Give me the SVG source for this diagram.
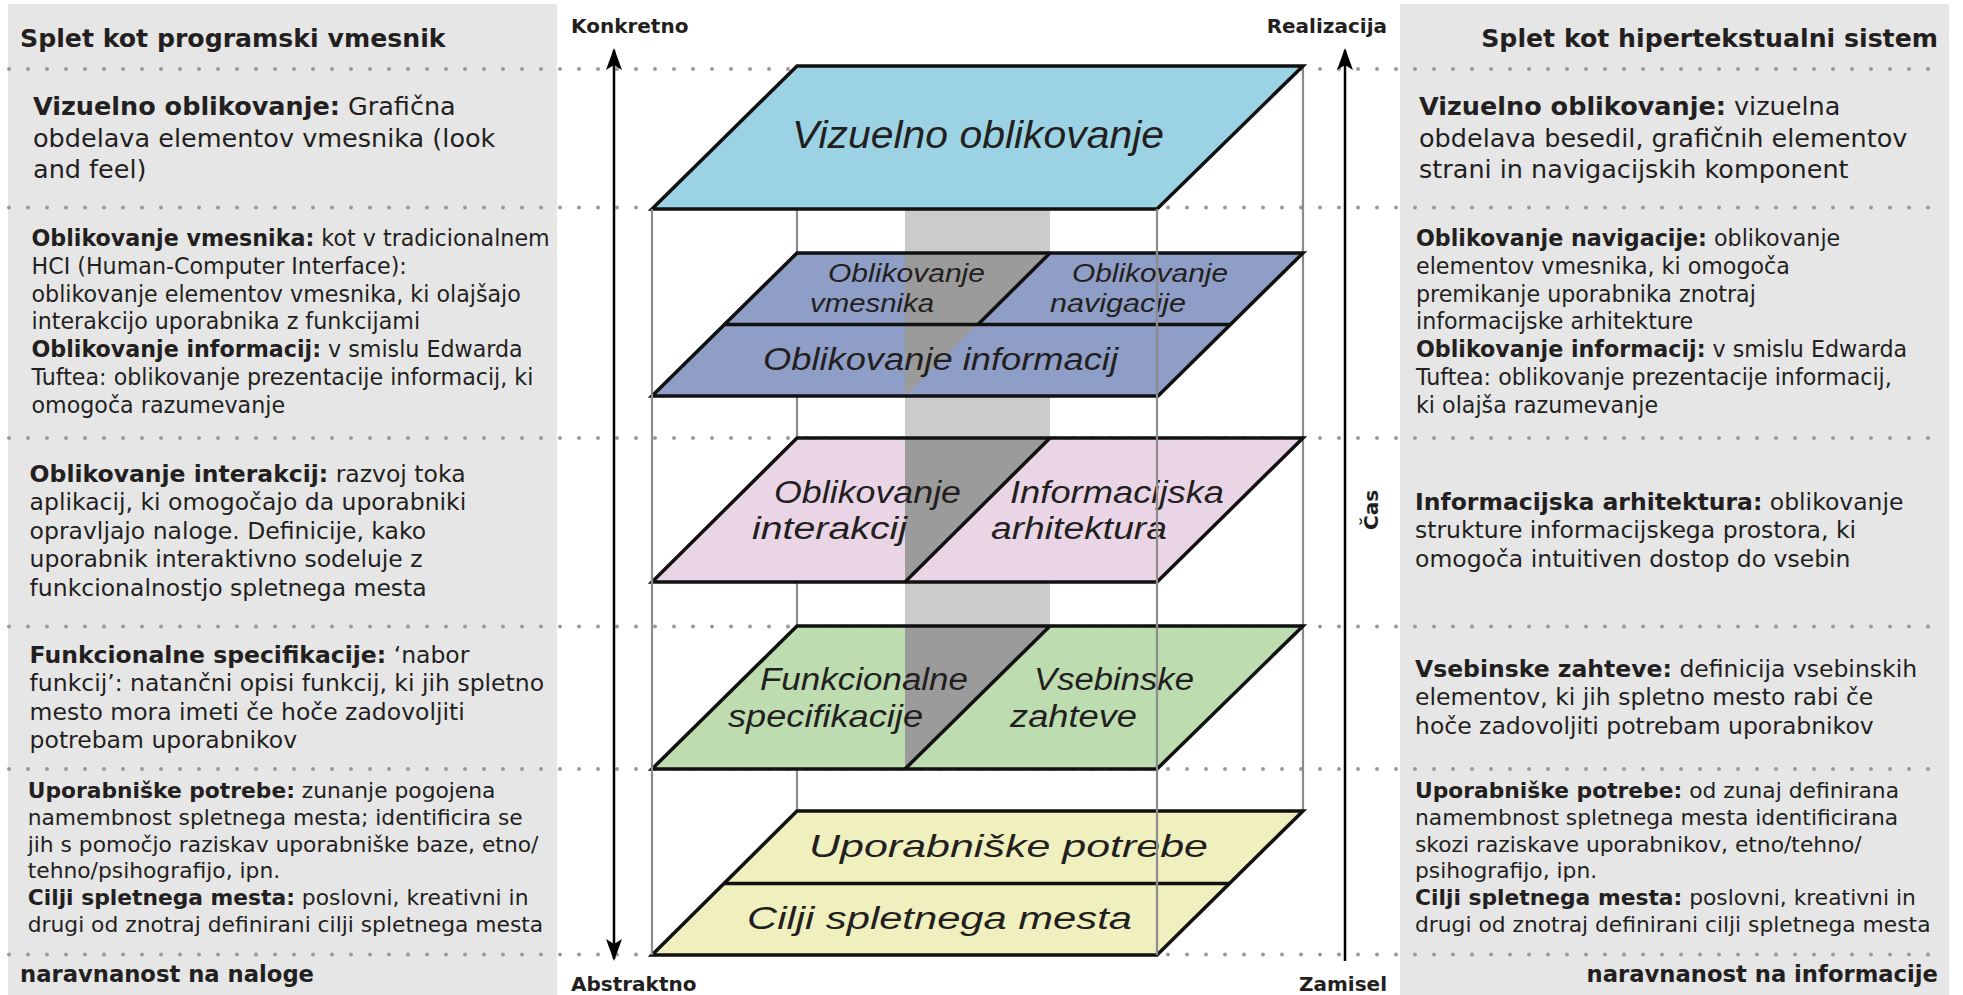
<svg xmlns="http://www.w3.org/2000/svg" width="1963" height="995" viewBox="0 0 1963 995">
<style>
  .panel { fill: #e6e6e6; }
  .dots { stroke: #9a9a9a; stroke-width: 4; stroke-linecap: round; stroke-dasharray: 0 19; fill: none; }
  .edge { stroke: #8c8c8c; stroke-width: 2.2; fill: none; }
  .plane { stroke: #111; stroke-width: 3.5; stroke-linejoin: miter; }
  .div { stroke: #111; stroke-width: 3.5; fill: none; }
  .dark { fill: #9b9b9b; }
  .shaft { fill: #cbcbcb; }
  .t { font-family: "DejaVu Sans", "Noto Sans", sans-serif; fill: #231f20; }
  .b { font-weight: bold; }
  .hdr { font-size: 25.2px; font-weight: bold; }
  .ftr { font-size: 22.7px; font-weight: bold; }
  .s1 { font-size: 25.5px; }
  .s2 { font-size: 22.2px; }
  .s3 { font-size: 23.5px; }
  .s5 { font-size: 21.8px; }
  .ax { font-family: "DejaVu Sans", sans-serif; font-size: 20px; font-weight: bold; fill: #231f20; }
  .lbl { font-family: "Liberation Sans", Arial, sans-serif; font-style: italic; fill: #231f20; }
  .arrow { stroke: #000; stroke-width: 2.5; fill: none; }
</style>
<defs>
  <marker id="ah" markerUnits="userSpaceOnUse" markerWidth="26" markerHeight="20" viewBox="0 -10 26 20" refX="20" refY="0" orient="auto-start-reverse">
    <path d="M0,-8 L22,0 L0,8 L5,0 Z" fill="#000"/>
  </marker>
</defs>

<!-- side panels -->
<g id="panel-left">
  <rect class="panel" x="8" y="4" width="549" height="991"/>
</g>
<g id="panel-right">
  <rect class="panel" x="1400" y="4" width="549" height="991"/>
</g>

<!-- dotted row separators -->
<g id="row-separators">
  <line class="dots" x1="9" y1="69" x2="1945" y2="69"/>
  <line class="dots" x1="9" y1="207.5" x2="1945" y2="207.5"/>
  <line class="dots" x1="9" y1="438" x2="1945" y2="438"/>
  <line class="dots" x1="9" y1="626.5" x2="1945" y2="626.5"/>
  <line class="dots" x1="9" y1="769" x2="1945" y2="769"/>
  <line class="dots" x1="9" y1="954.5" x2="1945" y2="954.5"/>
</g>

<!-- central shaft and back edges -->
<g id="shaft">
  <rect class="shaft" x="905" y="209" width="145" height="418"/>
</g>
<g id="back-edges">
  <line class="edge" x1="797" y1="66" x2="797" y2="811"/>
  <line class="edge" x1="1303" y1="66" x2="1303" y2="811"/>
</g>

<!-- planes -->
<g id="node-vizuelno">
  <polygon class="plane" fill="#9cd3e4" points="797,66 1303,66 1157,209 652,209"/>
  <text class="lbl" x="792" y="148" font-size="38" textLength="372" lengthAdjust="spacingAndGlyphs">Vizuelno oblikovanje</text>
</g>

<g id="node-oblikovanje-vmesnika-navigacije-informacij">
  <polygon fill="#8e9ec6" points="797,253 1303,253 1158,396 652,396"/>
  <polygon class="dark" points="905,253 1050,253 905,396"/>
  <polygon class="plane" fill="none" points="797,253 1303,253 1158,396 652,396"/>
  <line class="div" x1="725" y1="324.5" x2="1231" y2="324.5"/>
  <line class="div" x1="1050" y1="253" x2="978" y2="324.5"/>
  <text class="lbl" x="828" y="282" font-size="26" textLength="157" lengthAdjust="spacingAndGlyphs">Oblikovanje</text>
  <text class="lbl" x="810" y="312" font-size="26" textLength="124" lengthAdjust="spacingAndGlyphs">vmesnika</text>
  <text class="lbl" x="1072" y="282" font-size="26" textLength="156" lengthAdjust="spacingAndGlyphs">Oblikovanje</text>
  <text class="lbl" x="1050" y="312" font-size="26" textLength="136" lengthAdjust="spacingAndGlyphs">navigacije</text>
  <text class="lbl" x="763" y="370" font-size="31" textLength="355" lengthAdjust="spacingAndGlyphs">Oblikovanje informacij</text>
</g>

<g id="node-interakcije-arhitektura">
  <polygon fill="#e9d5e6" points="797,438 1303,438 1157,582 652,582"/>
  <polygon class="dark" points="905,438 1050,438 905,582"/>
  <polygon class="plane" fill="none" points="797,438 1303,438 1157,582 652,582"/>
  <line class="div" x1="1050" y1="438" x2="905" y2="582"/>
  <text class="lbl" x="774" y="503" font-size="31" textLength="187" lengthAdjust="spacingAndGlyphs">Oblikovanje</text>
  <text class="lbl" x="752" y="539" font-size="31" textLength="155" lengthAdjust="spacingAndGlyphs">interakcij</text>
  <text class="lbl" x="1010" y="503" font-size="31" textLength="214" lengthAdjust="spacingAndGlyphs">Informacijska</text>
  <text class="lbl" x="991" y="539" font-size="31" textLength="176" lengthAdjust="spacingAndGlyphs">arhitektura</text>
</g>

<g id="node-funkcionalne-vsebinske">
  <polygon fill="#bddcb0" points="797,626 1303,626 1157,769 652,769"/>
  <polygon class="dark" points="905,626 1050,626 905,769"/>
  <polygon class="plane" fill="none" points="797,626 1303,626 1157,769 652,769"/>
  <line class="div" x1="1050" y1="626" x2="905" y2="769"/>
  <text class="lbl" x="760" y="690" font-size="31" textLength="208" lengthAdjust="spacingAndGlyphs">Funkcionalne</text>
  <text class="lbl" x="728" y="727" font-size="31" textLength="195" lengthAdjust="spacingAndGlyphs">specifikacije</text>
  <text class="lbl" x="1034" y="690" font-size="31" textLength="160" lengthAdjust="spacingAndGlyphs">Vsebinske</text>
  <text class="lbl" x="1010" y="727" font-size="31" textLength="127" lengthAdjust="spacingAndGlyphs">zahteve</text>
</g>

<g id="node-potrebe-cilji">
  <polygon fill="#f0efbe" points="797,811 1303,811 1157,955 652,955"/>
  <polygon class="plane" fill="none" points="797,811 1303,811 1157,955 652,955"/>
  <line class="div" x1="724" y1="883.5" x2="1230" y2="883.5"/>
  <text class="lbl" x="809" y="857" font-size="32" textLength="399" lengthAdjust="spacingAndGlyphs">Uporabniške potrebe</text>
  <text class="lbl" x="747" y="929" font-size="31" textLength="385" lengthAdjust="spacingAndGlyphs">Cilji spletnega mesta</text>
</g>

<!-- front edges -->
<g id="front-edges">
  <line class="edge" x1="652" y1="209" x2="652" y2="955"/>
  <line class="edge" x1="1157" y1="209" x2="1157" y2="955"/>
</g>

<!-- connectors: axes -->
<g id="connectors">
  <line class="arrow" x1="614" y1="50" x2="614" y2="959" marker-start="url(#ah)" marker-end="url(#ah)"/>
  <line class="arrow" x1="1345" y1="961" x2="1345" y2="50" marker-end="url(#ah)"/>
</g>

<g id="axis-labels">
  <text class="ax" x="571" y="33">Konkretno</text>
  <text class="ax" x="571" y="991">Abstraktno</text>
  <text class="ax" x="1387" y="33" text-anchor="end">Realizacija</text>
  <text class="ax" x="1387" y="991" text-anchor="end">Zamisel</text>
  <text class="ax" transform="translate(1378,530) rotate(-90)">Čas</text>
</g>

<!-- left panel texts -->
<g id="left-texts" class="t">
  <text class="hdr" x="20" y="47">Splet kot programski vmesnik</text>
  <g class="s1">
    <text x="33" y="115"><tspan class="b">Vizuelno oblikovanje:</tspan> Grafična</text>
    <text x="33" y="147">obdelava elementov vmesnika (look</text>
    <text x="33" y="178">and feel)</text>
  </g>
  <g class="s2">
    <text x="31.5" y="246"><tspan class="b">Oblikovanje vmesnika:</tspan> kot v tradicionalnem</text>
    <text x="31.5" y="273.8">HCI (Human-Computer Interface):</text>
    <text x="31.5" y="301.6">oblikovanje elementov vmesnika, ki olajšajo</text>
    <text x="31.5" y="329.4">interakcijo uporabnika z funkcijami</text>
    <text x="31.5" y="357.2"><tspan class="b">Oblikovanje informacij:</tspan> v smislu Edwarda</text>
    <text x="31.5" y="385">Tuftea: oblikovanje prezentacije informacij, ki</text>
    <text x="31.5" y="412.8">omogoča razumevanje</text>
  </g>
  <g class="s3">
    <text x="29.6" y="482"><tspan class="b">Oblikovanje interakcij:</tspan> razvoj toka</text>
    <text x="29.6" y="510.4">aplikacij, ki omogočajo da uporabniki</text>
    <text x="29.6" y="538.8">opravljajo naloge. Definicije, kako</text>
    <text x="29.6" y="567.2">uporabnik interaktivno sodeluje z</text>
    <text x="29.6" y="595.6">funkcionalnostjo spletnega mesta</text>
  </g>
  <g class="s3">
    <text x="29.6" y="663"><tspan class="b">Funkcionalne specifikacije:</tspan> ‘nabor</text>
    <text x="29.6" y="691.4">funkcij’: natančni opisi funkcij, ki jih spletno</text>
    <text x="29.6" y="719.8">mesto mora imeti če hoče zadovoljiti</text>
    <text x="29.6" y="748.2">potrebam uporabnikov</text>
  </g>
  <g class="s5">
    <text x="27.7" y="798"><tspan class="b">Uporabniške potrebe:</tspan> zunanje pogojena</text>
    <text x="27.7" y="824.8">namembnost spletnega mesta; identificira se</text>
    <text x="27.7" y="851.6">jih s pomočjo raziskav uporabniške baze, etno/</text>
    <text x="27.7" y="878.4">tehno/psihografijo, ipn.</text>
    <text x="27.7" y="905.2"><tspan class="b">Cilji spletnega mesta:</tspan> poslovni, kreativni in</text>
    <text x="27.7" y="932">drugi od znotraj definirani cilji spletnega mesta</text>
  </g>
  <text class="ftr" x="20" y="982">naravnanost na naloge</text>
</g>

<!-- right panel texts -->
<g id="right-texts" class="t">
  <text class="hdr" x="1938" y="47" text-anchor="end">Splet kot hipertekstualni sistem</text>
  <g class="s1">
    <text x="1419" y="115"><tspan class="b">Vizuelno oblikovanje:</tspan> vizuelna</text>
    <text x="1419" y="147">obdelava besedil, grafičnih elementov</text>
    <text x="1419" y="178">strani in navigacijskih komponent</text>
  </g>
  <g class="s2">
    <text x="1416" y="246"><tspan class="b">Oblikovanje navigacije:</tspan> oblikovanje</text>
    <text x="1416" y="273.8">elementov vmesnika, ki omogoča</text>
    <text x="1416" y="301.6">premikanje uporabnika znotraj</text>
    <text x="1416" y="329.4">informacijske arhitekture</text>
    <text x="1416" y="357.2"><tspan class="b">Oblikovanje informacij:</tspan> v smislu Edwarda</text>
    <text x="1416" y="385">Tuftea: oblikovanje prezentacije informacij,</text>
    <text x="1416" y="412.8">ki olajša razumevanje</text>
  </g>
  <g class="s3">
    <text x="1415" y="510"><tspan class="b">Informacijska arhitektura:</tspan> oblikovanje</text>
    <text x="1415" y="538.4">strukture informacijskega prostora, ki</text>
    <text x="1415" y="566.8">omogoča intuitiven dostop do vsebin</text>
  </g>
  <g class="s3">
    <text x="1415" y="677"><tspan class="b">Vsebinske zahteve:</tspan> definicija vsebinskih</text>
    <text x="1415" y="705.4">elementov, ki jih spletno mesto rabi če</text>
    <text x="1415" y="733.8">hoče zadovoljiti potrebam uporabnikov</text>
  </g>
  <g class="s5">
    <text x="1415" y="798"><tspan class="b">Uporabniške potrebe:</tspan> od zunaj definirana</text>
    <text x="1415" y="824.8">namembnost spletnega mesta identificirana</text>
    <text x="1415" y="851.6">skozi raziskave uporabnikov, etno/tehno/</text>
    <text x="1415" y="878.4">psihografijo, ipn.</text>
    <text x="1415" y="905.2"><tspan class="b">Cilji spletnega mesta:</tspan> poslovni, kreativni in</text>
    <text x="1415" y="932">drugi od znotraj definirani cilji spletnega mesta</text>
  </g>
  <text class="ftr" x="1938" y="982" text-anchor="end">naravnanost na informacije</text>
</g>
</svg>
